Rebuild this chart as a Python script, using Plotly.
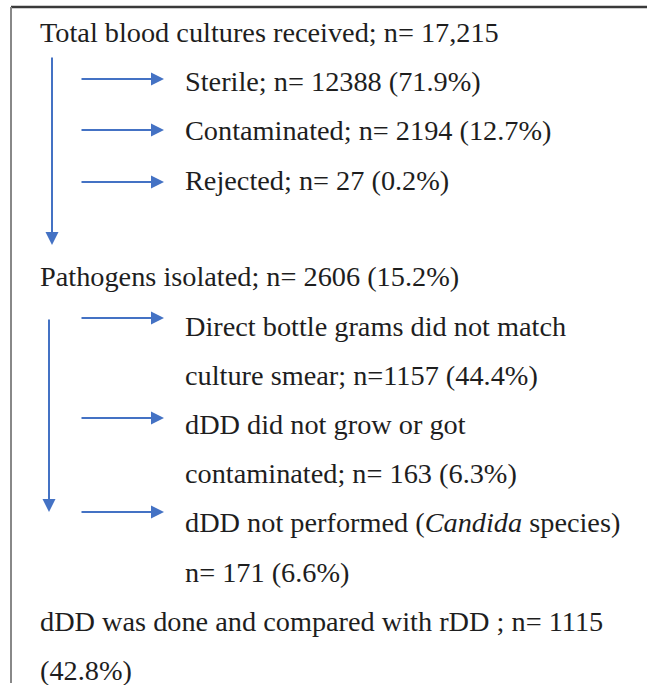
import plotly.graph_objects as go

stage_labels = ["Total blood cultures received", "Pathogens isolated",
                "dDD was done and compared with rDD"]
stage_counts = ["17,215", "2606", "1115"]
stage_pcts = [None, "15.2%", "42.8%"]

branch1_labels = ["Sterile", "Contaminated", "Rejected"]
branch1_counts = [12388, 2194, 27]
branch1_pcts = ["71.9%", "12.7%", "0.2%"]

branch2_lines = [
    ["Direct bottle grams did not match", "culture smear; n=1157 (44.4%)"],
    ["dDD did not grow or got", "contaminated; n= 163 (6.3%)"],
    ["dDD not performed (<i>Candida</i> species)", "n= 171 (6.6%)"],
]

# ---- layout positions (pixels) ----
W, H = 647, 685
FONT = dict(family="'Liberation Serif', 'Times New Roman', Times, serif",
            size=28.3, color="#1e1e1e")
BLUE = "#4472C4"
LINE_Y = [32, 81, 130, 180, 276, 326, 375, 424, 473, 522, 572, 621, 670]

fig = go.Figure()

ann = []

def text(x, y, s):
    ann.append(dict(x=x, y=y, xref="x", yref="y", text=s, showarrow=False,
                    xanchor="left", yanchor="middle", font=FONT))

def arrow(x0, y0, x1, y1):
    ann.append(dict(x=x1, y=y1, ax=x0, ay=y0, xref="x", yref="y", axref="x", ayref="y",
                    text="", showarrow=True, arrowhead=2, arrowsize=1.3, arrowwidth=2,
                    arrowcolor=BLUE, standoff=0, startstandoff=0))

# stage 1
text(38, LINE_Y[0], f"{stage_labels[0]}; n= {stage_counts[0]}")
for i, (lab, c, p) in enumerate(zip(branch1_labels, branch1_counts, branch1_pcts)):
    y = LINE_Y[1 + i]
    text(183, y, f"{lab}; n= {c} ({p})")
arrow(52, 56, 52, 245)
for y in [79, 130, 182]:
    arrow(80, y, 164, y)

# stage 2
text(38, LINE_Y[4], f"{stage_labels[1]}; n= {stage_counts[1]} ({stage_pcts[1]})")
k = 5
for pair in branch2_lines:
    for s in pair:
        text(183, LINE_Y[k], s)
        k += 1
arrow(49, 318, 49, 512)
for y in [318, 418, 512]:
    arrow(80, y, 164, y)

# final
text(38, LINE_Y[11], f"{stage_labels[2]} ; n= {stage_counts[2]}")
text(38, LINE_Y[12], f"({stage_pcts[2]})")

shapes = [
    dict(type="line", xref="x", yref="y", x0=11, y0=7, x1=W + 5, y1=7,
         line=dict(color="#3a3a3a", width=2.5)),
    dict(type="line", xref="x", yref="y", x0=11, y0=7, x1=11, y1=683,
         line=dict(color="#888888", width=2)),
]

fig.update_layout(
    width=W, height=H, margin=dict(l=0, r=0, t=0, b=0),
    paper_bgcolor="white", plot_bgcolor="white",
    xaxis=dict(range=[0, W], visible=False, fixedrange=True, showgrid=False, zeroline=False),
    yaxis=dict(range=[H, 0], visible=False, fixedrange=True, showgrid=False, zeroline=False),
    annotations=ann, shapes=shapes, showlegend=False,
)
fig.write_html("out.html", config={"displayModeBar": False},
               post_script="document.body.style.margin='0';document.body.style.overflow='hidden';"
                           "document.documentElement.style.overflow='hidden';")
